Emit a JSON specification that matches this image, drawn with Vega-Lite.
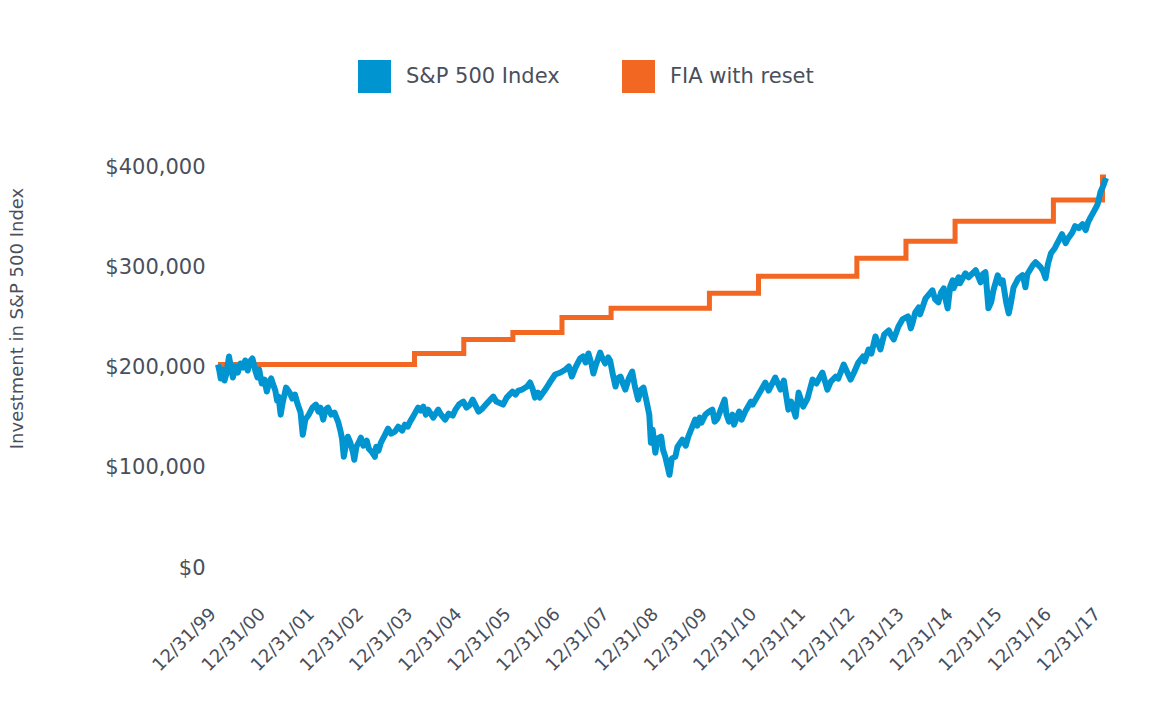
{
  "$schema": "https://vega.github.io/schema/vega-lite/v6.json",
  "width": 888,
  "height": 401,
  "autosize": {"type": "none"},
  "padding": {"left": 218, "top": 164, "right": 48, "bottom": 137},
  "background": "white",
  "config": {
    "font": "DejaVu Sans",
    "view": {"stroke": null}
  },
  "datasets": {
    "sp": [
      {"date": "1999-12-31", "value": 200000, "series": "S&P 500 Index"},
      {"date": "2000-01-10", "value": 194000, "series": "S&P 500 Index"},
      {"date": "2000-01-20", "value": 186000, "series": "S&P 500 Index"},
      {"date": "2000-02-01", "value": 195000, "series": "S&P 500 Index"},
      {"date": "2000-02-17", "value": 184000, "series": "S&P 500 Index"},
      {"date": "2000-03-01", "value": 190000, "series": "S&P 500 Index"},
      {"date": "2000-03-22", "value": 208000, "series": "S&P 500 Index"},
      {"date": "2000-04-05", "value": 197000, "series": "S&P 500 Index"},
      {"date": "2000-04-20", "value": 187000, "series": "S&P 500 Index"},
      {"date": "2000-05-05", "value": 198000, "series": "S&P 500 Index"},
      {"date": "2000-05-26", "value": 192000, "series": "S&P 500 Index"},
      {"date": "2000-06-15", "value": 201000, "series": "S&P 500 Index"},
      {"date": "2000-07-05", "value": 197000, "series": "S&P 500 Index"},
      {"date": "2000-07-20", "value": 204000, "series": "S&P 500 Index"},
      {"date": "2000-08-08", "value": 194000, "series": "S&P 500 Index"},
      {"date": "2000-08-25", "value": 203000, "series": "S&P 500 Index"},
      {"date": "2000-09-12", "value": 206000, "series": "S&P 500 Index"},
      {"date": "2000-10-05", "value": 193000, "series": "S&P 500 Index"},
      {"date": "2000-10-20", "value": 187000, "series": "S&P 500 Index"},
      {"date": "2000-11-01", "value": 195000, "series": "S&P 500 Index"},
      {"date": "2000-11-20", "value": 181000, "series": "S&P 500 Index"},
      {"date": "2000-12-10", "value": 185000, "series": "S&P 500 Index"},
      {"date": "2000-12-28", "value": 173000, "series": "S&P 500 Index"},
      {"date": "2001-01-15", "value": 183000, "series": "S&P 500 Index"},
      {"date": "2001-01-30", "value": 186000, "series": "S&P 500 Index"},
      {"date": "2001-02-13", "value": 180000, "series": "S&P 500 Index"},
      {"date": "2001-03-01", "value": 174000, "series": "S&P 500 Index"},
      {"date": "2001-03-14", "value": 164000, "series": "S&P 500 Index"},
      {"date": "2001-03-25", "value": 168000, "series": "S&P 500 Index"},
      {"date": "2001-04-10", "value": 150000, "series": "S&P 500 Index"},
      {"date": "2001-04-25", "value": 162000, "series": "S&P 500 Index"},
      {"date": "2001-05-20", "value": 177000, "series": "S&P 500 Index"},
      {"date": "2001-06-15", "value": 172000, "series": "S&P 500 Index"},
      {"date": "2001-07-05", "value": 166000, "series": "S&P 500 Index"},
      {"date": "2001-07-25", "value": 170000, "series": "S&P 500 Index"},
      {"date": "2001-08-15", "value": 160000, "series": "S&P 500 Index"},
      {"date": "2001-09-05", "value": 152000, "series": "S&P 500 Index"},
      {"date": "2001-09-21", "value": 130000, "series": "S&P 500 Index"},
      {"date": "2001-10-10", "value": 145000, "series": "S&P 500 Index"},
      {"date": "2001-11-05", "value": 150000, "series": "S&P 500 Index"},
      {"date": "2001-12-02", "value": 157000, "series": "S&P 500 Index"},
      {"date": "2001-12-28", "value": 160000, "series": "S&P 500 Index"},
      {"date": "2002-01-15", "value": 153000, "series": "S&P 500 Index"},
      {"date": "2002-01-30", "value": 157000, "series": "S&P 500 Index"},
      {"date": "2002-02-20", "value": 145000, "series": "S&P 500 Index"},
      {"date": "2002-03-10", "value": 155000, "series": "S&P 500 Index"},
      {"date": "2002-03-28", "value": 157000, "series": "S&P 500 Index"},
      {"date": "2002-04-20", "value": 150000, "series": "S&P 500 Index"},
      {"date": "2002-05-15", "value": 152000, "series": "S&P 500 Index"},
      {"date": "2002-06-13", "value": 142000, "series": "S&P 500 Index"},
      {"date": "2002-06-28", "value": 134000, "series": "S&P 500 Index"},
      {"date": "2002-07-10", "value": 126000, "series": "S&P 500 Index"},
      {"date": "2002-07-23", "value": 108000, "series": "S&P 500 Index"},
      {"date": "2002-08-05", "value": 118000, "series": "S&P 500 Index"},
      {"date": "2002-08-22", "value": 128000, "series": "S&P 500 Index"},
      {"date": "2002-09-10", "value": 122000, "series": "S&P 500 Index"},
      {"date": "2002-09-30", "value": 112000, "series": "S&P 500 Index"},
      {"date": "2002-10-09", "value": 105000, "series": "S&P 500 Index"},
      {"date": "2002-10-25", "value": 118000, "series": "S&P 500 Index"},
      {"date": "2002-11-10", "value": 122000, "series": "S&P 500 Index"},
      {"date": "2002-11-27", "value": 127000, "series": "S&P 500 Index"},
      {"date": "2002-12-15", "value": 119000, "series": "S&P 500 Index"},
      {"date": "2003-01-10", "value": 124000, "series": "S&P 500 Index"},
      {"date": "2003-01-25", "value": 116000, "series": "S&P 500 Index"},
      {"date": "2003-02-15", "value": 113000, "series": "S&P 500 Index"},
      {"date": "2003-03-11", "value": 108000, "series": "S&P 500 Index"},
      {"date": "2003-03-21", "value": 118000, "series": "S&P 500 Index"},
      {"date": "2003-04-07", "value": 114000, "series": "S&P 500 Index"},
      {"date": "2003-04-25", "value": 122000, "series": "S&P 500 Index"},
      {"date": "2003-05-26", "value": 130000, "series": "S&P 500 Index"},
      {"date": "2003-06-17", "value": 136000, "series": "S&P 500 Index"},
      {"date": "2003-07-10", "value": 131000, "series": "S&P 500 Index"},
      {"date": "2003-08-07", "value": 133000, "series": "S&P 500 Index"},
      {"date": "2003-09-01", "value": 138000, "series": "S&P 500 Index"},
      {"date": "2003-09-30", "value": 134000, "series": "S&P 500 Index"},
      {"date": "2003-10-20", "value": 140000, "series": "S&P 500 Index"},
      {"date": "2003-11-10", "value": 138000, "series": "S&P 500 Index"},
      {"date": "2003-11-28", "value": 143000, "series": "S&P 500 Index"},
      {"date": "2003-12-20", "value": 148000, "series": "S&P 500 Index"},
      {"date": "2004-01-26", "value": 157000, "series": "S&P 500 Index"},
      {"date": "2004-02-15", "value": 154000, "series": "S&P 500 Index"},
      {"date": "2004-03-05", "value": 158000, "series": "S&P 500 Index"},
      {"date": "2004-03-24", "value": 150000, "series": "S&P 500 Index"},
      {"date": "2004-04-10", "value": 155000, "series": "S&P 500 Index"},
      {"date": "2004-05-18", "value": 147000, "series": "S&P 500 Index"},
      {"date": "2004-06-24", "value": 155000, "series": "S&P 500 Index"},
      {"date": "2004-07-15", "value": 150000, "series": "S&P 500 Index"},
      {"date": "2004-08-14", "value": 145000, "series": "S&P 500 Index"},
      {"date": "2004-09-10", "value": 151000, "series": "S&P 500 Index"},
      {"date": "2004-10-10", "value": 149000, "series": "S&P 500 Index"},
      {"date": "2004-10-30", "value": 155000, "series": "S&P 500 Index"},
      {"date": "2004-11-25", "value": 160000, "series": "S&P 500 Index"},
      {"date": "2004-12-28", "value": 163000, "series": "S&P 500 Index"},
      {"date": "2005-01-20", "value": 157000, "series": "S&P 500 Index"},
      {"date": "2005-02-16", "value": 160000, "series": "S&P 500 Index"},
      {"date": "2005-03-07", "value": 165000, "series": "S&P 500 Index"},
      {"date": "2005-04-20", "value": 153000, "series": "S&P 500 Index"},
      {"date": "2005-05-18", "value": 156000, "series": "S&P 500 Index"},
      {"date": "2005-06-20", "value": 161000, "series": "S&P 500 Index"},
      {"date": "2005-08-07", "value": 168000, "series": "S&P 500 Index"},
      {"date": "2005-08-30", "value": 163000, "series": "S&P 500 Index"},
      {"date": "2005-10-19", "value": 160000, "series": "S&P 500 Index"},
      {"date": "2005-11-15", "value": 167000, "series": "S&P 500 Index"},
      {"date": "2005-12-28", "value": 173000, "series": "S&P 500 Index"},
      {"date": "2006-01-20", "value": 170000, "series": "S&P 500 Index"},
      {"date": "2006-02-10", "value": 174000, "series": "S&P 500 Index"},
      {"date": "2006-03-10", "value": 175000, "series": "S&P 500 Index"},
      {"date": "2006-04-15", "value": 178000, "series": "S&P 500 Index"},
      {"date": "2006-05-08", "value": 182000, "series": "S&P 500 Index"},
      {"date": "2006-05-26", "value": 176000, "series": "S&P 500 Index"},
      {"date": "2006-06-13", "value": 167000, "series": "S&P 500 Index"},
      {"date": "2006-07-05", "value": 172000, "series": "S&P 500 Index"},
      {"date": "2006-07-18", "value": 167000, "series": "S&P 500 Index"},
      {"date": "2006-08-29", "value": 175000, "series": "S&P 500 Index"},
      {"date": "2006-10-01", "value": 182000, "series": "S&P 500 Index"},
      {"date": "2006-11-10", "value": 190000, "series": "S&P 500 Index"},
      {"date": "2006-12-20", "value": 192000, "series": "S&P 500 Index"},
      {"date": "2007-01-26", "value": 195000, "series": "S&P 500 Index"},
      {"date": "2007-02-20", "value": 198000, "series": "S&P 500 Index"},
      {"date": "2007-03-14", "value": 188000, "series": "S&P 500 Index"},
      {"date": "2007-04-10", "value": 197000, "series": "S&P 500 Index"},
      {"date": "2007-05-15", "value": 206000, "series": "S&P 500 Index"},
      {"date": "2007-06-05", "value": 208000, "series": "S&P 500 Index"},
      {"date": "2007-06-25", "value": 202000, "series": "S&P 500 Index"},
      {"date": "2007-07-16", "value": 211000, "series": "S&P 500 Index"},
      {"date": "2007-08-08", "value": 200000, "series": "S&P 500 Index"},
      {"date": "2007-08-21", "value": 191000, "series": "S&P 500 Index"},
      {"date": "2007-09-10", "value": 200000, "series": "S&P 500 Index"},
      {"date": "2007-10-11", "value": 212000, "series": "S&P 500 Index"},
      {"date": "2007-10-25", "value": 207000, "series": "S&P 500 Index"},
      {"date": "2007-11-17", "value": 201000, "series": "S&P 500 Index"},
      {"date": "2007-12-10", "value": 207000, "series": "S&P 500 Index"},
      {"date": "2007-12-24", "value": 204000, "series": "S&P 500 Index"},
      {"date": "2008-01-10", "value": 192000, "series": "S&P 500 Index"},
      {"date": "2008-02-02", "value": 178000, "series": "S&P 500 Index"},
      {"date": "2008-02-15", "value": 186000, "series": "S&P 500 Index"},
      {"date": "2008-03-10", "value": 188000, "series": "S&P 500 Index"},
      {"date": "2008-03-25", "value": 182000, "series": "S&P 500 Index"},
      {"date": "2008-04-15", "value": 175000, "series": "S&P 500 Index"},
      {"date": "2008-05-10", "value": 186000, "series": "S&P 500 Index"},
      {"date": "2008-06-05", "value": 193000, "series": "S&P 500 Index"},
      {"date": "2008-06-25", "value": 178000, "series": "S&P 500 Index"},
      {"date": "2008-07-19", "value": 165000, "series": "S&P 500 Index"},
      {"date": "2008-08-10", "value": 175000, "series": "S&P 500 Index"},
      {"date": "2008-08-28", "value": 177000, "series": "S&P 500 Index"},
      {"date": "2008-09-20", "value": 163000, "series": "S&P 500 Index"},
      {"date": "2008-10-10", "value": 150000, "series": "S&P 500 Index"},
      {"date": "2008-10-22", "value": 122000, "series": "S&P 500 Index"},
      {"date": "2008-11-04", "value": 135000, "series": "S&P 500 Index"},
      {"date": "2008-11-24", "value": 112000, "series": "S&P 500 Index"},
      {"date": "2008-12-10", "value": 126000, "series": "S&P 500 Index"},
      {"date": "2009-01-06", "value": 128000, "series": "S&P 500 Index"},
      {"date": "2009-01-20", "value": 115000, "series": "S&P 500 Index"},
      {"date": "2009-02-06", "value": 108000, "series": "S&P 500 Index"},
      {"date": "2009-02-20", "value": 100000, "series": "S&P 500 Index"},
      {"date": "2009-03-09", "value": 90000, "series": "S&P 500 Index"},
      {"date": "2009-03-26", "value": 106000, "series": "S&P 500 Index"},
      {"date": "2009-04-22", "value": 108000, "series": "S&P 500 Index"},
      {"date": "2009-05-08", "value": 118000, "series": "S&P 500 Index"},
      {"date": "2009-06-13", "value": 125000, "series": "S&P 500 Index"},
      {"date": "2009-07-08", "value": 119000, "series": "S&P 500 Index"},
      {"date": "2009-07-27", "value": 128000, "series": "S&P 500 Index"},
      {"date": "2009-08-20", "value": 136000, "series": "S&P 500 Index"},
      {"date": "2009-09-16", "value": 145000, "series": "S&P 500 Index"},
      {"date": "2009-10-02", "value": 139000, "series": "S&P 500 Index"},
      {"date": "2009-10-20", "value": 147000, "series": "S&P 500 Index"},
      {"date": "2009-11-02", "value": 142000, "series": "S&P 500 Index"},
      {"date": "2009-12-01", "value": 150000, "series": "S&P 500 Index"},
      {"date": "2009-12-28", "value": 153000, "series": "S&P 500 Index"},
      {"date": "2010-01-22", "value": 155000, "series": "S&P 500 Index"},
      {"date": "2010-02-08", "value": 143000, "series": "S&P 500 Index"},
      {"date": "2010-02-28", "value": 146000, "series": "S&P 500 Index"},
      {"date": "2010-04-23", "value": 165000, "series": "S&P 500 Index"},
      {"date": "2010-05-07", "value": 150000, "series": "S&P 500 Index"},
      {"date": "2010-05-25", "value": 143000, "series": "S&P 500 Index"},
      {"date": "2010-06-20", "value": 150000, "series": "S&P 500 Index"},
      {"date": "2010-07-02", "value": 140000, "series": "S&P 500 Index"},
      {"date": "2010-08-09", "value": 153000, "series": "S&P 500 Index"},
      {"date": "2010-08-27", "value": 145000, "series": "S&P 500 Index"},
      {"date": "2010-09-23", "value": 153000, "series": "S&P 500 Index"},
      {"date": "2010-11-05", "value": 163000, "series": "S&P 500 Index"},
      {"date": "2010-11-17", "value": 160000, "series": "S&P 500 Index"},
      {"date": "2010-12-31", "value": 170000, "series": "S&P 500 Index"},
      {"date": "2011-02-20", "value": 182000, "series": "S&P 500 Index"},
      {"date": "2011-03-16", "value": 174000, "series": "S&P 500 Index"},
      {"date": "2011-05-04", "value": 187000, "series": "S&P 500 Index"},
      {"date": "2011-06-13", "value": 175000, "series": "S&P 500 Index"},
      {"date": "2011-07-07", "value": 184000, "series": "S&P 500 Index"},
      {"date": "2011-08-10", "value": 155000, "series": "S&P 500 Index"},
      {"date": "2011-08-30", "value": 163000, "series": "S&P 500 Index"},
      {"date": "2011-10-03", "value": 148000, "series": "S&P 500 Index"},
      {"date": "2011-10-25", "value": 172000, "series": "S&P 500 Index"},
      {"date": "2011-11-28", "value": 158000, "series": "S&P 500 Index"},
      {"date": "2011-12-30", "value": 166000, "series": "S&P 500 Index"},
      {"date": "2012-02-06", "value": 185000, "series": "S&P 500 Index"},
      {"date": "2012-03-05", "value": 181000, "series": "S&P 500 Index"},
      {"date": "2012-04-19", "value": 192000, "series": "S&P 500 Index"},
      {"date": "2012-05-26", "value": 175000, "series": "S&P 500 Index"},
      {"date": "2012-06-20", "value": 183000, "series": "S&P 500 Index"},
      {"date": "2012-07-27", "value": 188000, "series": "S&P 500 Index"},
      {"date": "2012-08-15", "value": 186000, "series": "S&P 500 Index"},
      {"date": "2012-09-24", "value": 200000, "series": "S&P 500 Index"},
      {"date": "2012-11-14", "value": 185000, "series": "S&P 500 Index"},
      {"date": "2012-12-10", "value": 192000, "series": "S&P 500 Index"},
      {"date": "2013-01-11", "value": 202000, "series": "S&P 500 Index"},
      {"date": "2013-02-15", "value": 208000, "series": "S&P 500 Index"},
      {"date": "2013-02-26", "value": 203000, "series": "S&P 500 Index"},
      {"date": "2013-03-28", "value": 215000, "series": "S&P 500 Index"},
      {"date": "2013-04-18", "value": 211000, "series": "S&P 500 Index"},
      {"date": "2013-05-18", "value": 228000, "series": "S&P 500 Index"},
      {"date": "2013-06-24", "value": 215000, "series": "S&P 500 Index"},
      {"date": "2013-07-22", "value": 230000, "series": "S&P 500 Index"},
      {"date": "2013-08-25", "value": 234000, "series": "S&P 500 Index"},
      {"date": "2013-09-12", "value": 229000, "series": "S&P 500 Index"},
      {"date": "2013-10-01", "value": 225000, "series": "S&P 500 Index"},
      {"date": "2013-11-05", "value": 238000, "series": "S&P 500 Index"},
      {"date": "2013-12-05", "value": 245000, "series": "S&P 500 Index"},
      {"date": "2014-01-15", "value": 248000, "series": "S&P 500 Index"},
      {"date": "2014-02-05", "value": 236000, "series": "S&P 500 Index"},
      {"date": "2014-02-17", "value": 241000, "series": "S&P 500 Index"},
      {"date": "2014-03-10", "value": 252000, "series": "S&P 500 Index"},
      {"date": "2014-04-05", "value": 257000, "series": "S&P 500 Index"},
      {"date": "2014-04-15", "value": 250000, "series": "S&P 500 Index"},
      {"date": "2014-05-26", "value": 266000, "series": "S&P 500 Index"},
      {"date": "2014-06-20", "value": 270000, "series": "S&P 500 Index"},
      {"date": "2014-07-16", "value": 274000, "series": "S&P 500 Index"},
      {"date": "2014-08-05", "value": 265000, "series": "S&P 500 Index"},
      {"date": "2014-08-29", "value": 262000, "series": "S&P 500 Index"},
      {"date": "2014-09-18", "value": 272000, "series": "S&P 500 Index"},
      {"date": "2014-10-08", "value": 276000, "series": "S&P 500 Index"},
      {"date": "2014-10-20", "value": 266000, "series": "S&P 500 Index"},
      {"date": "2014-11-06", "value": 256000, "series": "S&P 500 Index"},
      {"date": "2014-11-25", "value": 278000, "series": "S&P 500 Index"},
      {"date": "2014-12-13", "value": 284000, "series": "S&P 500 Index"},
      {"date": "2014-12-20", "value": 276000, "series": "S&P 500 Index"},
      {"date": "2015-01-26", "value": 287000, "series": "S&P 500 Index"},
      {"date": "2015-02-05", "value": 281000, "series": "S&P 500 Index"},
      {"date": "2015-03-18", "value": 291000, "series": "S&P 500 Index"},
      {"date": "2015-04-10", "value": 287000, "series": "S&P 500 Index"},
      {"date": "2015-06-03", "value": 294000, "series": "S&P 500 Index"},
      {"date": "2015-07-09", "value": 282000, "series": "S&P 500 Index"},
      {"date": "2015-07-25", "value": 290000, "series": "S&P 500 Index"},
      {"date": "2015-08-14", "value": 292000, "series": "S&P 500 Index"},
      {"date": "2015-09-05", "value": 256000, "series": "S&P 500 Index"},
      {"date": "2015-09-25", "value": 262000, "series": "S&P 500 Index"},
      {"date": "2015-10-12", "value": 274000, "series": "S&P 500 Index"},
      {"date": "2015-11-13", "value": 289000, "series": "S&P 500 Index"},
      {"date": "2015-12-05", "value": 281000, "series": "S&P 500 Index"},
      {"date": "2015-12-20", "value": 284000, "series": "S&P 500 Index"},
      {"date": "2016-01-15", "value": 262000, "series": "S&P 500 Index"},
      {"date": "2016-02-03", "value": 251000, "series": "S&P 500 Index"},
      {"date": "2016-02-20", "value": 262000, "series": "S&P 500 Index"},
      {"date": "2016-03-10", "value": 277000, "series": "S&P 500 Index"},
      {"date": "2016-04-15", "value": 286000, "series": "S&P 500 Index"},
      {"date": "2016-05-15", "value": 289000, "series": "S&P 500 Index"},
      {"date": "2016-05-28", "value": 283000, "series": "S&P 500 Index"},
      {"date": "2016-06-06", "value": 277000, "series": "S&P 500 Index"},
      {"date": "2016-06-20", "value": 290000, "series": "S&P 500 Index"},
      {"date": "2016-07-31", "value": 299000, "series": "S&P 500 Index"},
      {"date": "2016-08-20", "value": 302000, "series": "S&P 500 Index"},
      {"date": "2016-09-27", "value": 297000, "series": "S&P 500 Index"},
      {"date": "2016-10-15", "value": 293000, "series": "S&P 500 Index"},
      {"date": "2016-11-03", "value": 286000, "series": "S&P 500 Index"},
      {"date": "2016-11-20", "value": 300000, "series": "S&P 500 Index"},
      {"date": "2016-12-13", "value": 311000, "series": "S&P 500 Index"},
      {"date": "2017-01-10", "value": 316000, "series": "S&P 500 Index"},
      {"date": "2017-02-10", "value": 324000, "series": "S&P 500 Index"},
      {"date": "2017-03-05", "value": 330000, "series": "S&P 500 Index"},
      {"date": "2017-04-01", "value": 321000, "series": "S&P 500 Index"},
      {"date": "2017-04-20", "value": 326000, "series": "S&P 500 Index"},
      {"date": "2017-05-22", "value": 332000, "series": "S&P 500 Index"},
      {"date": "2017-06-10", "value": 338000, "series": "S&P 500 Index"},
      {"date": "2017-07-08", "value": 336000, "series": "S&P 500 Index"},
      {"date": "2017-08-05", "value": 340000, "series": "S&P 500 Index"},
      {"date": "2017-08-28", "value": 334000, "series": "S&P 500 Index"},
      {"date": "2017-09-15", "value": 342000, "series": "S&P 500 Index"},
      {"date": "2017-10-04", "value": 347000, "series": "S&P 500 Index"},
      {"date": "2017-10-25", "value": 352000, "series": "S&P 500 Index"},
      {"date": "2017-11-10", "value": 356000, "series": "S&P 500 Index"},
      {"date": "2017-11-25", "value": 360000, "series": "S&P 500 Index"},
      {"date": "2017-12-16", "value": 372000, "series": "S&P 500 Index"},
      {"date": "2018-01-05", "value": 378000, "series": "S&P 500 Index"},
      {"date": "2018-01-26", "value": 386000, "series": "S&P 500 Index"}
    ],
    "fia": [
      {"date": "1999-12-31", "value": 200000, "series": "FIA with reset"},
      {"date": "2003-12-31", "value": 211000, "series": "FIA with reset"},
      {"date": "2004-12-31", "value": 225000, "series": "FIA with reset"},
      {"date": "2005-12-31", "value": 232000, "series": "FIA with reset"},
      {"date": "2006-12-31", "value": 247000, "series": "FIA with reset"},
      {"date": "2007-12-31", "value": 256000, "series": "FIA with reset"},
      {"date": "2009-12-31", "value": 271000, "series": "FIA with reset"},
      {"date": "2010-12-31", "value": 288000, "series": "FIA with reset"},
      {"date": "2012-12-31", "value": 306000, "series": "FIA with reset"},
      {"date": "2013-12-31", "value": 323000, "series": "FIA with reset"},
      {"date": "2014-12-31", "value": 343000, "series": "FIA with reset"},
      {"date": "2016-12-31", "value": 364000, "series": "FIA with reset"},
      {"date": "2017-12-31", "value": 387000, "series": "FIA with reset"},
      {"date": "2018-01-26", "value": 387000, "series": "FIA with reset"}
    ]
  },
  "encoding": {
    "x": {
      "field": "date",
      "type": "temporal",
      "scale": {
        "type": "utc",
        "domain": [
          {"year": 1999, "month": 12, "date": 31, "utc": true},
          {"year": 2018, "month": 1, "date": 26, "utc": true}
        ]
      },
      "axis": {
        "title": null,
        "format": "%m/%d/%y",
        "values": [
          {"year": 1999, "month": 12, "date": 31, "utc": true},
          {"year": 2000, "month": 12, "date": 31, "utc": true},
          {"year": 2001, "month": 12, "date": 31, "utc": true},
          {"year": 2002, "month": 12, "date": 31, "utc": true},
          {"year": 2003, "month": 12, "date": 31, "utc": true},
          {"year": 2004, "month": 12, "date": 31, "utc": true},
          {"year": 2005, "month": 12, "date": 31, "utc": true},
          {"year": 2006, "month": 12, "date": 31, "utc": true},
          {"year": 2007, "month": 12, "date": 31, "utc": true},
          {"year": 2008, "month": 12, "date": 31, "utc": true},
          {"year": 2009, "month": 12, "date": 31, "utc": true},
          {"year": 2010, "month": 12, "date": 31, "utc": true},
          {"year": 2011, "month": 12, "date": 31, "utc": true},
          {"year": 2012, "month": 12, "date": 31, "utc": true},
          {"year": 2013, "month": 12, "date": 31, "utc": true},
          {"year": 2014, "month": 12, "date": 31, "utc": true},
          {"year": 2015, "month": 12, "date": 31, "utc": true},
          {"year": 2016, "month": 12, "date": 31, "utc": true},
          {"year": 2017, "month": 12, "date": 31, "utc": true}
        ],
        "labelAngle": -45,
        "labelAlign": "right",
        "labelBaseline": "middle",
        "labelFontSize": 18,
        "labelColor": "#4a4f5c",
        "labelPadding": 46,
        "labelOffset": -5,
        "labelOverlap": false,
        "labelFlush": false,
        "domain": false,
        "ticks": false,
        "tickSize": 0,
        "grid": false
      }
    },
    "y": {
      "field": "value",
      "type": "quantitative",
      "scale": {"domain": [0, 400000], "nice": false},
      "axis": {
        "title": "Investment in S&P 500 Index",
        "titleFontSize": 18,
        "titleFontWeight": "normal",
        "titleColor": "#4a4f5c",
        "titleX": -201,
        "titleY": 154,
        "titleAlign": "center",
        "titleBaseline": "middle",
        "titleAngle": -90,
        "values": [0, 100000, 200000, 300000, 400000],
        "format": "$,.0f",
        "labelFontSize": 21,
        "labelColor": "#4a4f5c",
        "labelPadding": 13,
        "labelOffset": 3,
        "domain": false,
        "ticks": false,
        "tickSize": 0,
        "grid": false
      }
    },
    "color": {
      "field": "series",
      "type": "nominal",
      "scale": {
        "domain": ["S&P 500 Index", "FIA with reset"],
        "range": ["#0094d1", "#f26722"]
      },
      "legend": {
        "title": null,
        "orient": "none",
        "direction": "horizontal",
        "legendX": 140,
        "legendY": -104,
        "symbolType": "square",
        "symbolSize": 1089,
        "labelFontSize": 21,
        "labelColor": "#4a4f5c",
        "labelOffset": 15,
        "columnPadding": 62,
        "padding": 0,
        "encode": {
          "symbols": {
            "update": {
              "fill": {"scale": "color", "field": "value"},
              "fillOpacity": {"value": 1},
              "strokeWidth": {"value": 0},
              "opacity": {"value": 1}
            }
          }
        }
      }
    }
  },
  "layer": [
    {
      "data": {"name": "fia"},
      "mark": {"type": "line", "strokeWidth": 5, "interpolate": "step-after", "strokeJoin": "miter", "strokeCap": "butt"}
    },
    {
      "data": {"name": "sp"},
      "mark": {"type": "line", "strokeWidth": 6, "strokeJoin": "round"}
    }
  ]
}
